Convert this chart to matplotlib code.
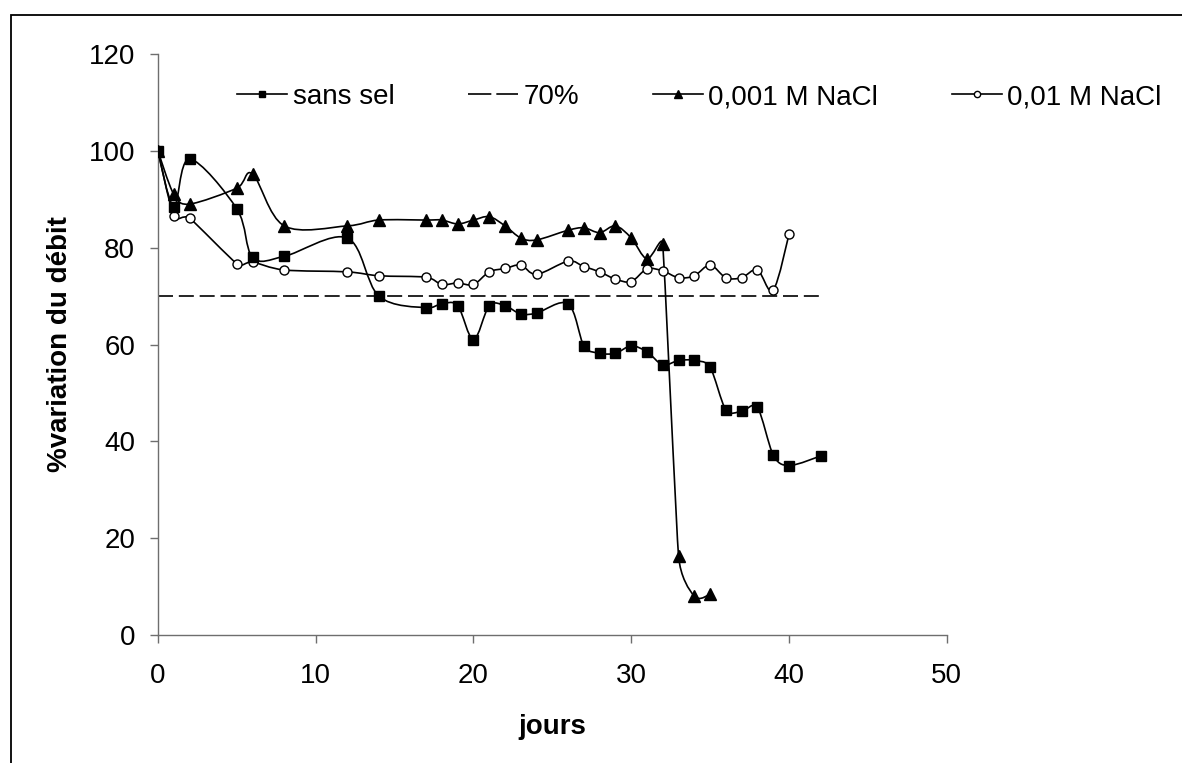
import numpy as np
import matplotlib
matplotlib.use("Agg")
import matplotlib.pyplot as plt
from matplotlib.path import Path
from matplotlib.patches import PathPatch, Rectangle
from matplotlib.lines import Line2D

plt.rcParams['font.family'] = ['Liberation Sans', 'DejaVu Sans']

# data
days_sans_sel = [0, 1, 2, 5, 6, 8, 12, 14, 17, 18, 19, 20, 21, 22, 23, 24,
                 26, 27, 28, 29, 30, 31, 32, 33, 34, 35, 36, 37, 38, 39, 40, 42]
sans_sel = [100, 88.5, 98.3, 88, 78, 78.2, 82, 70, 67.6, 68.4, 68, 61, 68, 68, 66.3, 66.5,
            68.4, 59.7, 58.2, 58.2, 59.7, 58.5, 55.8, 56.7, 56.7, 55.3, 46.5, 46.2, 47, 37.2, 35, 37]

days_seuil = [0, 42]
seuil = [70, 70]

days_0001 = [0, 1, 2, 5, 6, 8, 12, 14, 17, 18, 19, 20, 21, 22, 23, 24,
             26, 27, 28, 29, 30, 31, 32, 33, 34, 35]
nacl_0001 = [100, 91, 89, 92.3, 95.2, 84.5, 84.5, 85.7, 85.7, 85.7, 84.9, 85.7, 86.4, 84.5, 82, 81.6,
             83.6, 84.1, 83.1, 84.5, 82, 77.7, 80.8, 16.3, 8, 8.5]

days_001 = [0, 1, 2, 5, 6, 8, 12, 14, 17, 18, 19, 20, 21, 22, 23, 24,
            26, 27, 28, 29, 30, 31, 32, 33, 34, 35, 36, 37, 38, 39, 40]
nacl_001 = [100, 86.5, 86.1, 76.7, 77, 75.4, 75, 74.2, 73.9, 72.4, 72.7, 72.4, 75, 75.7, 76.4, 74.5,
            77.2, 76.1, 75, 73.5, 73, 75.6, 75.2, 73.8, 74.2, 76.4, 73.8, 73.8, 75.4, 71.2, 82.9]

labels = ['sans sel', '70%', '0,001 M NaCl', '0,01 M NaCl']

W, H = 1182, 763
fig = plt.figure(figsize=(W / 100, H / 100), dpi=100)
ax = fig.add_axes([158 / W, 1 - 635 / H, (946.7 - 158) / W, (635 - 54) / H])
ax.set_xlim(0, 50)
ax.set_ylim(0, 120)


def ctrl(p0, p1, p2):
    # excel-like smoothing: catmull-rom tangent, clamped to half the shorter segment
    v = (p2 - p0) / 6.0
    lim = min(np.hypot(*(p1 - p0)), np.hypot(*(p2 - p1))) / 2.0
    n = np.hypot(*v)
    if n > lim and n > 0:
        v = v * lim / n
    return v


def smooth_path(xs, ys):
    pts = ax.transData.transform(np.column_stack([xs, ys]))
    n = len(pts)
    verts = [pts[0]]
    codes = [Path.MOVETO]
    for i in range(n - 1):
        p0 = pts[max(i - 1, 0)]
        p1 = pts[i]
        p2 = pts[i + 1]
        p3 = pts[min(i + 2, n - 1)]
        verts += [p1 + ctrl(p0, p1, p2), p2 - ctrl(p1, p2, p3), p2]
        codes += [Path.CURVE4] * 3
    verts = ax.transData.inverted().transform(np.array(verts))
    return Path(verts, codes)


lw = 1.2
dash = (0, (9, 3.5))
ax.add_patch(PathPatch(smooth_path(days_sans_sel, sans_sel), fill=False, lw=lw, ec='black', zorder=2))
ax.plot(days_seuil, seuil, color='black', lw=lw, ls=dash, zorder=2)

ax.add_patch(PathPatch(smooth_path(days_0001, nacl_0001), fill=False, lw=lw, ec='black', zorder=4))
ax.plot(days_0001, nacl_0001, ls='none', marker='^', ms=8.5, mfc='black', mec='black', zorder=5)

ax.add_patch(PathPatch(smooth_path(days_001, nacl_001), fill=False, lw=lw, ec='black', zorder=6))
ax.plot(days_001, nacl_001, ls='none', marker='o', ms=6.5, mfc='white', mec='black', mew=1, zorder=7)

# squares on top so the day-0 point shows black
ax.plot(days_sans_sel, sans_sel, ls='none', marker='s', ms=7.5, mfc='black', mec='black', zorder=8)

ax.set_xticks(range(0, 51, 10))
ax.set_yticks(range(0, 121, 20))
for s in ['top', 'right']:
    ax.spines[s].set_visible(False)
for s in ['left', 'bottom']:
    ax.spines[s].set_color('#6e6e6e')
    ax.spines[s].set_linewidth(1.0)
ax.tick_params(axis='both', direction='out', length=6, width=1.0, color='#6e6e6e', labelsize=20)
ax.tick_params(axis='y', pad=10.5)
ax.tick_params(axis='x', pad=14)

ax.set_xlabel('jours', fontsize=20, fontweight='bold', labelpad=18)
ax.set_ylabel('%variation du débit', fontsize=20, fontweight='bold', labelpad=11)

handles = [
    Line2D([], [], color='black', lw=lw, marker='s', ms=5, mfc='black'),
    Line2D([], [], color='black', lw=lw, ls=(0, (14, 3))),
    Line2D([], [], color='black', lw=lw, marker='^', ms=6, mfc='black'),
    Line2D([], [], color='black', lw=lw, marker='o', ms=4.5, mfc='white'),
]
fig.legend(handles, labels, loc='center left', bbox_to_anchor=(237 / W, 1 - 97 / H),
           ncol=4, frameon=False, fontsize=20, handlelength=1.8, handletextpad=0.2,
           columnspacing=2.65, borderpad=0, borderaxespad=0)

fig.patches.append(Rectangle((10.5 / W, -0.1), 1.5, 1.1 - 15 / H, transform=fig.transFigure,
                             fill=False, ec='black', lw=1.3))

fig.savefig('out.png', dpi=100)
